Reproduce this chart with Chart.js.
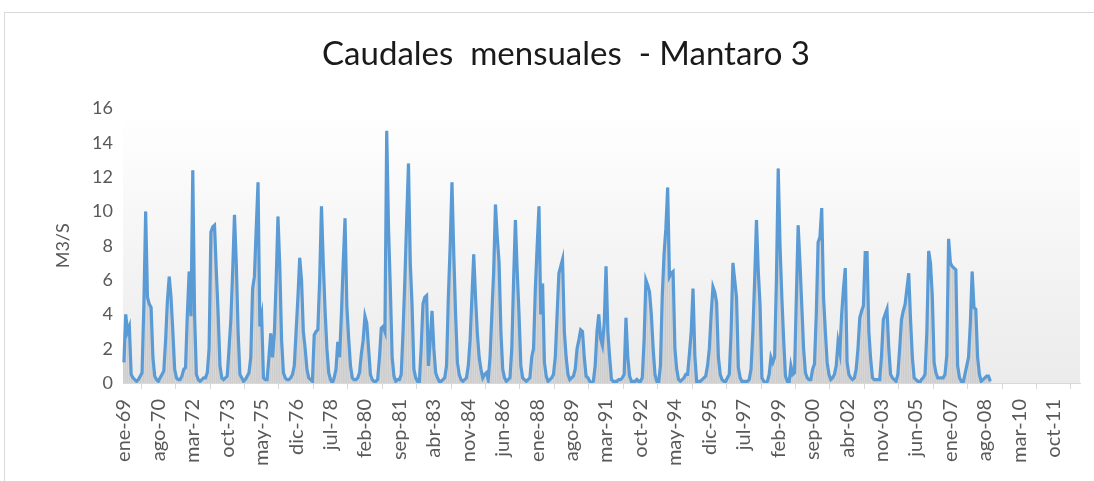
<!DOCTYPE html>
<html>
<head>
<meta charset="utf-8">
<script src="https://cdn.jsdelivr.net/npm/chart.js@4.4.1/dist/chart.umd.min.js"></script>
<style>
  html, body { margin: 0; padding: 0; background: #fff; }
</style>
</head>
<body>
<canvas id="chart" width="1094" height="481"></canvas>
<script>
const meses = ["ene", "feb", "mar", "abr", "may", "jun", "jul", "ago", "sep", "oct", "nov", "dic"];
const anioInicio = 1969;
const anioFin = 2012;
const pasoEtiquetas = 19;

// caudales mensuales (m3/s), ene-69 .. nov-08
const caudales1969_1978 = [
  1.2, 4.0, 3.0, 3.3, 0.5, 0.3, 0.2, 0.1, 0.2, 0.4, 0.6, 4.5,
  10.0, 5.0, 4.6, 4.4, 1.5, 0.4, 0.2, 0.1, 0.3, 0.5, 0.7, 2.5,
  4.8, 6.2, 5.0, 3.0, 0.8, 0.3, 0.2, 0.2, 0.4, 0.8, 0.9, 4.0,
  6.5, 3.9, 12.4, 3.9, 0.5, 0.2, 0.1, 0.2, 0.3, 0.3, 0.6, 2.0,
  8.8, 9.1, 9.2, 6.5, 4.0, 1.0, 0.3, 0.2, 0.3, 0.4, 2.0, 3.7,
  6.5, 9.8, 7.0, 3.0, 0.5, 0.3, 0.1, 0.2, 0.4, 0.6, 1.5, 5.5,
  6.2, 9.0, 11.7, 3.3, 3.9, 0.3, 0.2, 0.2, 1.5, 2.9, 1.5, 2.9,
  6.0, 9.7, 6.8, 2.5, 0.6, 0.3, 0.2, 0.2, 0.3, 0.5, 1.0, 3.0,
  5.0, 7.3, 6.0, 3.0, 2.0, 0.8, 0.3, 0.2, 0.1, 2.8, 3.0, 3.1,
  6.0, 10.3, 7.0, 4.2, 2.0, 0.6, 0.2, 0.0, 0.3, 0.8, 2.4, 1.5,
];
const caudales1979_1988 = [
  4.0, 7.0, 9.6, 4.5, 2.6, 1.0, 0.3, 0.2, 0.2, 0.3, 0.6, 1.7,
  2.5, 3.9, 3.5, 2.0, 0.5, 0.2, 0.1, 0.1, 0.2, 1.5, 3.2, 3.3,
  3.0, 14.7, 9.0, 5.5, 1.5, 0.4, 0.1, 0.2, 0.2, 0.5, 3.0, 6.0,
  9.5, 12.8, 7.0, 4.5, 0.8, 0.3, 0.1, 0.1, 2.0, 4.6, 5.0, 5.1,
  1.0, 2.5, 4.2, 2.0, 0.6, 0.3, 0.1, 0.1, 0.2, 0.3, 1.0, 5.0,
  8.0, 11.7, 7.5, 4.0, 1.2, 0.5, 0.2, 0.1, 0.2, 0.3, 1.0, 2.5,
  5.0, 7.5, 5.0, 2.9, 1.5, 0.8, 0.3, 0.5, 0.6, 0.2, 1.5, 4.0,
  6.5, 10.4, 8.5, 7.0, 3.0, 0.8, 0.3, 0.1, 0.2, 0.3, 2.0, 6.0,
  9.5, 6.5, 4.0, 1.0, 0.3, 0.2, 0.1, 0.2, 0.3, 1.5, 2.0, 5.5,
  8.0, 10.3, 4.0, 5.8, 1.2, 0.4, 0.1, 0.2, 0.3, 0.5, 1.5, 4.0,
];
const caudales1989_1998 = [
  6.4, 6.8, 7.2, 3.0, 1.5, 0.5, 0.2, 0.3, 0.4, 0.8, 2.0, 2.5,
  3.1, 3.0, 1.5, 0.4, 0.3, 0.1, 0.0, 0.1, 1.0, 3.0, 4.0, 2.6,
  2.2, 3.5, 6.8, 3.0, 1.5, 0.2, 0.1, 0.1, 0.1, 0.2, 0.2, 0.3,
  0.5, 3.8, 1.5, 0.4, 0.1, 0.1, 0.1, 0.2, 0.1, 0.1, 0.3, 2.5,
  6.0, 5.7, 5.3, 4.0, 2.0, 0.5, 0.1, 0.0, 1.0, 5.0, 7.5, 9.0,
  11.4, 6.2, 6.4, 6.5, 2.0, 0.8, 0.2, 0.1, 0.2, 0.3, 0.5, 0.5,
  1.7, 3.0, 5.5, 1.6, 0.1, 0.1, 0.1, 0.2, 0.3, 0.4, 1.0, 2.0,
  4.0, 5.6, 5.3, 4.7, 1.5, 0.5, 0.2, 0.1, 0.1, 0.3, 0.5, 3.0,
  7.0, 6.0, 5.0, 0.9, 0.3, 0.1, 0.1, 0.1, 0.1, 0.2, 0.8, 3.0,
  6.0, 9.5, 6.5, 4.5, 0.3, 0.1, 0.0, 0.1, 0.5, 1.5, 1.2, 1.5,
];
const caudales1999_2008 = [
  6.0, 12.5, 8.0, 5.0, 2.5, 0.4, 0.1, 0.0, 1.0, 0.5, 0.6, 5.0,
  9.2, 7.0, 4.5, 2.0, 0.6, 0.3, 0.2, 0.2, 0.8, 1.1, 4.0, 8.2,
  8.5, 10.2, 5.0, 3.0, 1.2, 0.5, 0.2, 0.3, 0.5, 1.0, 2.4, 1.8,
  4.0, 5.5, 6.7, 1.2, 0.5, 0.3, 0.2, 0.3, 0.8, 2.0, 3.8, 4.2,
  4.5, 7.6, 7.6, 3.0, 1.4, 0.3, 0.2, 0.2, 0.2, 0.2, 1.6, 3.7,
  4.0, 4.3, 2.0, 0.5, 0.3, 0.2, 0.1, 0.5, 2.0, 3.7, 4.2, 4.6,
  5.5, 6.4, 3.7, 1.5, 0.3, 0.2, 0.1, 0.0, 0.2, 0.3, 0.5, 3.0,
  7.7, 7.0, 5.1, 1.2, 0.6, 0.3, 0.3, 0.3, 0.3, 0.5, 1.6, 8.4,
  7.0, 6.8, 6.7, 6.6, 1.0, 0.3, 0.1, 0.0, 0.5, 1.0, 1.5, 3.5,
  6.5, 4.4, 4.3, 1.5, 0.5, 0.1, 0.2, 0.3, 0.4, 0.4, 0.1,
];

const etiquetas = [];
for (let a = anioInicio; a <= anioFin; a++) {
  meses.forEach((m) => etiquetas.push(m + "-" + String(a).slice(2)));
}
const caudales = [].concat(caudales1969_1978, caudales1979_1988, caudales1989_1998, caudales1999_2008);

const fondo = {
  id: "fondo",
  beforeDraw(chart) {
    const { ctx, chartArea: a } = chart;
    ctx.save();
    ctx.fillStyle = "#ffffff";
    ctx.fillRect(0, 0, chart.width, chart.height);
    ctx.strokeStyle = "#d9d9d9";
    ctx.lineWidth = 1;
    ctx.strokeRect(4.5, 12.5, chart.width + 10, chart.height + 10);
    const g = ctx.createLinearGradient(0, a.top, 0, a.bottom);
    g.addColorStop(0, "#ffffff");
    g.addColorStop(1, "#ebebeb");
    ctx.fillStyle = g;
    ctx.fillRect(a.left, a.top, a.right - a.left, a.bottom - a.top);
    ctx.restore();
  },
};

Chart.defaults.font.family = "Lato";

new Chart(document.getElementById("chart"), {
  type: "bar",
  data: {
    labels: etiquetas,
    datasets: [
      {
        type: "line",
        label: "Caudal",
        data: caudales,
        borderColor: "#5b9bd5",
        borderWidth: 3.2,
        pointRadius: 0,
        tension: 0,
        order: 0,
      },
      {
        type: "bar",
        label: "Caudal barras",
        data: caudales,
        backgroundColor: "#cdcdcd",
        barThickness: 1,
        order: 1,
      },
    ],
  },
  options: {
    responsive: false,
    animation: false,
    layout: {
      padding: { left: 52, right: 14, top: 0, bottom: 0 },
    },
    scales: {
      x: {
        offset: true,
        grid: {
          display: true,
          drawOnChartArea: false,
          drawTicks: true,
          tickLength: 6,
          offset: true,
          color: "#d9d9d9",
        },
        border: { display: true, color: "#d9d9d9" },
        ticks: {
          autoSkip: false,
          maxRotation: 90,
          minRotation: 90,
          padding: 10,
          color: "#595959",
          font: { size: 20 },
          callback: function (value, index) {
            return index % pasoEtiquetas === 0 ? this.getLabelForValue(value) : null;
          },
        },
        afterFit(scale) {
          scale.height = 98;
        },
      },
      y: {
        min: 0,
        max: 16,
        ticks: {
          stepSize: 2,
          padding: 10,
          color: "#595959",
          font: { size: 18 },
        },
        grid: { display: false, drawTicks: false },
        border: { display: false },
        title: {
          display: true,
          text: "M3/S",
          color: "#595959",
          font: { size: 18 },
          padding: { top: 0, bottom: 0 },
        },
        afterFit(scale) {
          scale.width = 71;
        },
      },
    },
    plugins: {
      legend: { display: false },
      tooltip: { enabled: false },
      title: {
        display: true,
        text: "Caudales  mensuales  - Mantaro 3",
        color: "#1a1a1a",
        font: { size: 33, weight: "normal" },
        padding: { top: 35, bottom: 34 },
      },
    },
  },
  plugins: [fondo],
});
</script>
</body>
</html>
